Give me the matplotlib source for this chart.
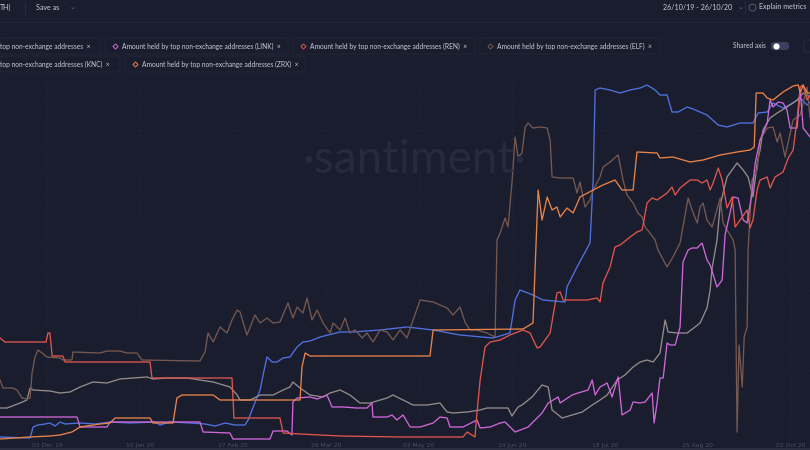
import matplotlib
matplotlib.use("Agg")
import matplotlib.pyplot as plt
import matplotlib.dates as mdates
from matplotlib.lines import Line2D
from matplotlib.patches import FancyBboxPatch, Rectangle
import numpy as np

BG = "#1a1d2d"
START = np.datetime64("2019-10-26")

# (days since 26 Oct 2019, level) - shared axis is off, so each series has its own scale
first_metric = [(18.8, 3), (31.1, 2), (32.3, 13), (34.3, 15), (37.2, 16), (39.2, 17), (41.3, 14),
                (43.3, 18), (45.4, 16), (51.5, 17), (57.6, 16), (63.8, 18), (71.9, 17), (82.1, 18),
                (84.2, 15), (88.3, 18), (96.5, 17), (102.6, 16), (106.7, 14), (110.8, 17), (114.8, 15),
                (118.9, 15), (120.2, 20), (121.8, 30), (123.4, 40), (125.1, 50), (126.3, 65), (127.9, 83),
                (130.0, 78), (132.0, 78), (134.5, 82), (137.3, 83), (140.2, 93), (142.6, 98), (145.5, 99),
                (149.6, 103), (157.8, 108), (163.1, 108), (174.1, 110), (185.1, 113), (195.8, 110),
                (206.8, 105), (220.3, 102), (227.2, 107), (229.3, 140), (231.3, 150), (236.6, 145),
                (240.7, 140), (249.7, 138), (250.5, 153), (254.6, 173), (259.9, 197), (261.2, 260),
                (262.0, 350), (264.0, 352), (268.1, 350), (272.2, 347), (276.3, 350), (280.4, 352),
                (283.2, 355), (286.5, 350), (288.5, 345), (291.4, 345), (293.4, 328), (295.9, 328),
                (299.6, 333), (302.0, 331), (307.7, 325), (312.3, 315), (315.9, 313), (321.2, 317),
                (326.5, 317), (328.6, 327), (332.3, 328), (334.7, 337), (338.8, 332), (342.9, 337),
                (345.8, 342), (348.6, 335), (349.8, 338)]

ren = [(18.8, 102), (20.8, 98), (37.6, 98), (38.4, 107), (39.2, 107), (40.1, 84), (44.5, 84),
       (45.4, 78), (80.1, 78), (80.9, 62), (113.6, 62), (114.4, 22), (133.2, 22), (134.5, 7),
       (141.4, 6), (157.8, 4), (182.3, 3), (208.0, 3), (209.7, 8), (212.9, 3), (213.7, 27),
       (215.0, 60), (217.0, 93), (219.1, 98), (223.2, 100), (227.2, 105), (232.5, 110), (235.4, 107),
       (238.3, 92), (239.5, 93), (243.6, 107), (246.4, 147), (247.7, 148), (248.9, 140), (258.7, 140),
       (262.8, 142), (264.0, 138), (265.2, 157), (268.1, 173), (270.1, 193), (272.2, 195),
       (276.3, 203), (279.1, 208), (281.2, 210), (283.2, 237), (285.3, 242), (287.3, 240),
       (288.5, 242), (291.4, 247), (293.4, 253), (294.7, 245), (296.7, 252), (300.8, 260),
       (303.7, 260), (305.7, 257), (307.7, 260), (309.0, 250), (310.2, 257), (312.3, 272),
       (313.9, 260), (315.9, 232), (318.0, 243), (319.2, 213), (322.1, 223), (324.1, 230),
       (325.3, 212), (326.5, 220), (328.2, 250), (329.4, 260), (332.3, 263), (333.5, 252),
       (335.5, 263), (338.8, 268), (340.9, 282), (342.9, 290), (344.5, 320), (345.8, 353),
       (347.0, 355), (348.6, 340), (349.8, 345)]

zrx = [(18.8, 1), (31.1, 3), (39.2, 4), (43.3, 5), (48.2, 8), (51.5, 13), (59.7, 16), (63.8, 17),
       (65.8, 22), (80.1, 22), (81.3, 17), (89.5, 17), (91.1, 42), (93.2, 45), (105.9, 45),
       (108.7, 40), (141.4, 40), (142.2, 73), (143.5, 87), (145.5, 84), (194.5, 84), (195.8, 110),
       (232.5, 111), (236.6, 117), (238.7, 250), (240.3, 220), (242.4, 243), (244.4, 230),
       (246.4, 233), (247.7, 223), (250.5, 232), (253.0, 227), (255.8, 243), (261.2, 250),
       (265.2, 255), (270.1, 260), (273.0, 250), (277.5, 250), (279.1, 288), (287.3, 287),
       (288.5, 282), (293.8, 283), (300.8, 278), (306.1, 280), (313.1, 285), (320.0, 288),
       (325.3, 290), (327.0, 293), (327.8, 347), (330.6, 347), (332.3, 342), (334.7, 340),
       (338.8, 348), (342.9, 354), (345.0, 355), (345.8, 347), (347.0, 355), (348.6, 347),
       (349.8, 347)]

link = [(18.8, 23), (50.3, 23), (51.5, 13), (62.5, 13), (63.8, 18), (100.5, 18), (101.8, 8),
        (112.8, 7), (114.0, 1), (129.1, 1), (130.4, 9), (136.1, 9), (138.1, 5), (138.5, 38),
        (140.2, 42), (145.5, 43), (148.4, 41), (152.4, 45), (154.5, 33), (159.0, 33), (164.7, 32),
        (168.8, 32), (170.8, 37), (171.2, 23), (177.0, 23), (179.0, 25), (181.0, 20), (183.5, 25),
        (186.4, 13), (190.5, 13), (195.8, 17), (198.6, 23), (201.5, 22), (202.7, 13), (208.0, 13),
        (213.7, 20), (215.0, 12), (219.1, 13), (223.2, 17), (225.2, 18), (229.3, 8), (234.6, 13),
        (240.3, 27), (242.8, 37), (246.9, 43), (247.7, 37), (252.6, 45), (255.0, 47), (259.1, 50),
        (260.8, 60), (262.0, 45), (264.0, 53), (266.9, 57), (268.9, 43), (271.4, 63), (273.0, 25),
        (276.3, 30), (277.5, 38), (280.4, 37), (282.4, 38), (285.3, 47), (286.1, 17), (287.3, 37),
        (288.5, 62), (289.8, 62), (291.4, 97), (292.6, 95), (294.7, 95), (296.7, 113), (297.9, 178),
        (300.0, 190), (301.6, 192), (303.7, 192), (305.7, 197), (307.7, 180), (309.0, 175),
        (311.8, 153), (313.9, 160), (315.1, 205), (317.1, 227), (318.4, 243), (320.4, 242),
        (322.5, 220), (324.1, 217), (326.1, 247), (327.4, 277), (329.4, 300), (330.6, 307),
        (332.3, 317), (333.5, 340), (334.7, 333), (336.8, 338), (338.8, 337), (340.4, 330),
        (341.7, 312), (344.5, 312), (345.8, 350), (347.0, 312), (348.6, 307), (349.8, 303)]

knc = [(18.8, 32), (21.7, 32), (27.0, 37), (29.8, 40), (31.1, 52), (32.3, 50), (39.2, 49),
       (43.3, 47), (47.4, 48), (51.5, 53), (56.8, 58), (62.5, 57), (67.8, 61), (73.2, 62),
       (78.9, 63), (81.3, 61), (87.1, 62), (95.2, 62), (100.5, 60), (105.9, 58), (112.8, 53),
       (115.7, 45), (116.9, 40), (121.0, 40), (125.1, 45), (130.4, 45), (134.5, 50), (137.3, 53),
       (138.5, 58), (141.4, 52), (145.5, 45), (150.8, 43), (153.7, 47), (157.8, 50), (161.8, 45),
       (165.9, 37), (170.0, 37), (177.0, 42), (179.4, 45), (183.5, 40), (187.6, 35), (193.3, 35),
       (198.6, 37), (201.5, 28), (203.9, 27), (209.7, 28), (215.0, 30), (217.8, 32), (223.2, 32),
       (226.4, 32), (228.0, 24), (230.5, 33), (232.1, 35), (236.2, 43), (240.3, 55), (242.8, 53),
       (244.4, 30), (248.5, 22), (252.6, 25), (256.7, 28), (260.8, 35), (264.0, 40), (266.9, 45),
       (271.0, 60), (274.2, 65), (277.5, 73), (280.4, 78), (283.2, 80), (285.7, 78), (288.5, 87),
       (290.6, 120), (291.8, 108), (295.5, 107), (299.6, 107), (302.8, 113), (304.9, 117),
       (307.7, 132), (309.0, 150), (309.8, 172), (311.8, 200), (313.1, 235), (315.9, 263),
       (320.0, 277), (322.5, 270), (324.5, 263), (326.5, 243), (328.2, 277), (329.4, 290),
       (330.6, 310), (333.5, 322), (336.4, 327), (340.4, 333), (344.5, 340), (347.0, 347),
       (349.8, 343)]

elf = [(18.8, 60), (20.0, 52), (24.1, 52), (25.7, 50), (27.8, 42), (29.8, 41), (31.1, 42),
       (31.9, 67), (33.1, 83), (34.3, 90), (36.0, 87), (38.0, 83), (43.3, 82), (44.5, 80),
       (48.2, 80), (48.6, 88), (59.7, 87), (62.5, 89), (67.8, 89), (70.7, 87), (74.8, 87),
       (76.8, 80), (100.5, 79), (102.6, 88), (103.8, 107), (105.9, 98), (108.7, 113), (111.6, 107),
       (113.6, 120), (115.7, 130), (116.9, 128), (119.7, 105), (123.0, 125), (125.1, 117),
       (127.9, 122), (130.4, 117), (133.2, 118), (136.5, 137), (138.5, 122), (140.2, 133),
       (142.6, 127), (144.3, 142), (146.3, 120), (148.4, 130), (150.8, 117), (153.7, 107),
       (154.9, 117), (157.8, 110), (159.8, 122), (161.8, 107), (163.9, 110), (166.8, 102),
       (168.8, 107), (171.2, 98), (174.1, 110), (177.0, 108), (179.4, 100), (182.3, 110),
       (185.1, 102), (187.6, 120), (190.5, 140), (195.8, 138), (201.5, 132), (203.9, 125),
       (206.8, 133), (208.8, 118), (210.9, 110), (213.7, 110), (217.8, 107), (221.1, 103),
       (221.9, 200), (223.2, 207), (225.2, 222), (226.4, 213), (228.0, 257), (229.3, 303),
       (230.5, 283), (232.1, 287), (233.4, 313), (234.6, 317), (236.6, 312), (239.5, 313),
       (242.4, 312), (243.6, 300), (244.4, 263), (247.7, 262), (253.0, 262), (254.6, 247),
       (255.8, 258), (257.9, 233), (259.9, 240), (261.2, 250), (264.0, 263), (265.2, 273),
       (268.1, 278), (271.4, 285), (273.4, 260), (275.0, 245), (277.5, 237), (279.5, 227),
       (281.2, 223), (282.4, 213), (284.4, 207), (286.5, 200), (287.7, 190), (291.4, 173),
       (293.8, 183), (296.7, 197), (300.0, 242), (301.6, 230), (303.7, 217), (304.9, 233),
       (306.1, 237), (307.7, 220), (309.8, 213), (313.1, 242), (314.3, 217), (315.9, 210),
       (318.4, 200), (319.2, 190), (320.0, 8), (320.8, 95), (322.1, 53), (322.9, 103),
       (324.1, 113), (324.5, 190), (326.1, 260), (328.2, 270), (329.4, 300), (332.3, 312),
       (334.7, 313), (336.4, 298), (337.6, 307), (339.6, 283), (340.9, 298), (342.9, 320),
       (345.8, 325), (348.6, 353), (349.8, 323)]

series = [
    (first_metric, "#4f72e3"),
    (knc, "#958b8b"),
    (elf, "#765850"),
    (link, "#cf67d8"),
    (ren, "#e0554e"),
    (zrx, "#e8834a"),
]

tick_dates = ["2019-12-03", "2020-01-10", "2020-02-17", "2020-03-26", "2020-05-03",
              "2020-06-10", "2020-07-18", "2020-08-25", "2020-10-02"]
tick_labels = ["03 Dec 19", "10 Jan 20", "17 Feb 20", "26 Mar 20", "03 May 20",
               "10 Jun 20", "18 Jul 20", "25 Aug 20", "02 Oct 20"]

chips_row1 = [
    ("top non-exchange addresses", None, 0, 100),
    ("Amount held by top non-exchange addresses (LINK)", "#cf67d8", 105, 288),
    ("Amount held by top non-exchange addresses (REN)", "#e0554e", 293, 475),
    ("Amount held by top non-exchange addresses (ELF)", "#765850", 480, 660),
]
chips_row2 = [
    ("top non-exchange addresses (KNC)", None, 0, 120),
    ("Amount held by top non-exchange addresses (ZRX)", "#e8834a", 125, 305),
]

W, H = 810, 450


def fx(x):
    return x / W


def fy(y):
    return 1 - y / H


fig = plt.figure(figsize=(8.1, 4.5), dpi=100, facecolor=BG)

ax = fig.add_axes([0, fy(440), 1, (440 - 80) / H], facecolor=BG)
base = mdates.date2num(START)
for data, color in series:
    d = np.array([p[0] for p in data])
    v = np.array([p[1] for p in data])
    ax.plot(base + d, v, color=color, lw=0.95, solid_joinstyle="round")

ax.set_xlim(base + 18.8, base + 349.8)
ax.set_ylim(0, 360)
ax.set_xticks(mdates.date2num(np.array(tick_dates, dtype="datetime64[D]")))
ax.set_xticklabels(tick_labels)
ax.set_yticks([70, 150, 230, 310])
ax.set_yticklabels([])
ax.tick_params(length=0, labelsize=4.3, labelcolor="#4b5066", pad=2)
ax.grid(color="#23273a", linestyle=(0, (3, 3)), linewidth=0.5)
ax.set_axisbelow(True)
for s in ax.spines.values():
    s.set_visible(False)

# watermark
fig.text(fx(414), fy(160), "\u00b7santiment\u00b7", color="#262a3d", fontsize=33,
         family="Lato", ha="center", va="center", zorder=0)

# header
fig.add_artist(Line2D([0, 1], [fy(22), fy(22)], color="#23273a", lw=0.8))
fig.add_artist(Line2D([fx(25), fx(25)], [fy(2), fy(14)], color="#2a2e42", lw=0.6))
fig.add_artist(Line2D([fx(745), fx(745)], [fy(2), fy(14)], color="#2a2e42", lw=0.6))
hdr = dict(color="#c9ccd8", fontsize=5.1, family="Lato", va="center")
fig.text(fx(0), fy(7), "TH)", **hdr)
fig.text(fx(36), fy(7), "Save as", **hdr)
fig.text(fx(70), fy(7), "\u2304", color="#6b7088", fontsize=5, va="center")
fig.text(fx(663), fy(7), "26/10/19 - 26/10/20", **hdr)
fig.text(fx(738), fy(7), "\u2304", color="#6b7088", fontsize=5, va="center")
fig.add_artist(Line2D([fx(752)], [fy(7)], marker="o", markersize=5, mfc="none",
                      mec="#6b7088", mew=0.5))
fig.text(fx(759), fy(7), "Explain metrics", **hdr)

# metric chips
chip_txt = dict(color="#c9ccd8", fontsize=4.8, family="Lato", va="center")
for row, yc in ((chips_row1, 46), (chips_row2, 64)):
    for label, color, x0, x1 in row:
        fig.add_artist(FancyBboxPatch((fx(x0), fy(yc + 8)), fx(x1 - x0), 16 / H,
                                      boxstyle="round,pad=0,rounding_size=0.004",
                                      fc=BG, ec="#242839", lw=0.6))
        tx = x0
        if color is not None:
            fig.add_artist(Line2D([fx(x0 + 10)], [fy(yc)], marker="D", markersize=2.6,
                                  mfc="none", mec=color, mew=0.7))
            tx = x0 + 17
        fig.text(fx(tx), fy(yc), label + "  \u00d7", **chip_txt)

fig.text(fx(733), fy(46), "Shared axis", **chip_txt)
fig.add_artist(FancyBboxPatch((fx(771), fy(50)), fx(18), 8 / H,
                              boxstyle="round,pad=0,rounding_size=0.005",
                              fc="#3b4060", ec="none"))
fig.add_artist(Line2D([fx(776)], [fy(46)], marker="o", markersize=4.5, mfc="white", mec="none"))
fig.add_artist(FancyBboxPatch((fx(804), fy(52)), fx(8), 12 / H,
                              boxstyle="round,pad=0,rounding_size=0.003",
                              fc=BG, ec="#2a2e42", lw=0.6))

# bottom strip
fig.add_artist(Rectangle((0, 0), 1, 2 / H, fc="#2a2e40", ec="none"))

fig.savefig("out.png", dpi=100, facecolor=BG)
